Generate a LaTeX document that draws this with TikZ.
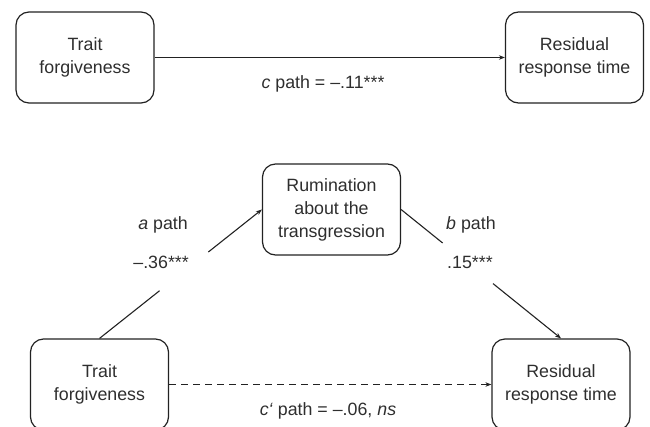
\documentclass[tikz,border=0pt]{standalone}
\usepackage{fontspec}
\setmainfont{Liberation Sans}
\usetikzlibrary{arrows.meta,calc}
\definecolor{ink}{HTML}{222222}
\definecolor{txt}{HTML}{2E2E2E}
\tikzset{
  box/.style={draw=ink, line width=1.2pt, rounded corners=13pt, minimum width=138pt, minimum height=91pt, align=center, inner sep=0pt, text=txt, font=\fontsize{17.8}{23}\selectfont},
  lbl/.style={inner sep=0pt, text=txt, font=\fontsize{17.8}{21}\selectfont},
  conn/.style={draw=ink, line width=1.1pt},
  tip/.style={-{Stealth[length=6pt,width=4.5pt]}}
}
\begin{document}
\begin{tikzpicture}[x=1pt,y=-1pt]
\useasboundingbox (0,0) rectangle (650,426);
\begin{scope}
\clip (0,0) rectangle (650,426);
\node[box] (tf1) at (85,57.5) {Trait\\forgiveness};
\node[box] (rt1) at (574.5,57.5) {Residual\\response time};
\node[box] (rum) at (331.5,209.5) {Rumination\\about the\\transgression};
\node[box] (tf2) at (99.5,384.5) {Trait\\forgiveness};
\node[box] (rt2) at (561,384.5) {Residual\\response time};

\draw[conn,tip] (tf1) -- (rt1);
\node[lbl] (cl) at (323,84) {\textit{c} path = –.11***};

\draw[conn] (tf2.north) -- ($(tf2.north)!0.37!(rum.west)$);
\draw[conn,tip] ($(tf2.north)!0.67!(rum.west)$) -- (rum.west);
\node[lbl,anchor=east] (al) at (188,225) {\textit{a} path};
\node[lbl,anchor=east] (av) at (189,262) {–.36***};

\draw[conn] (rum.east) -- ($(rum.east)!0.26!(rt2.north)$);
\draw[conn,tip] ($(rum.east)!0.575!(rt2.north)$) -- (rt2.north);
\node[lbl,anchor=west] (bl) at (446,225) {\textit{b} path};
\node[lbl,anchor=west] (bv) at (447,262) {.15***};

\draw[conn,tip,dashed,dash pattern=on 7pt off 5pt] (tf2) -- (rt2);
\node[lbl] (cpl) at (328,411) {\textit{c‘} path = –.06, \textit{ns}};
\end{scope}
\end{tikzpicture}
\end{document}
